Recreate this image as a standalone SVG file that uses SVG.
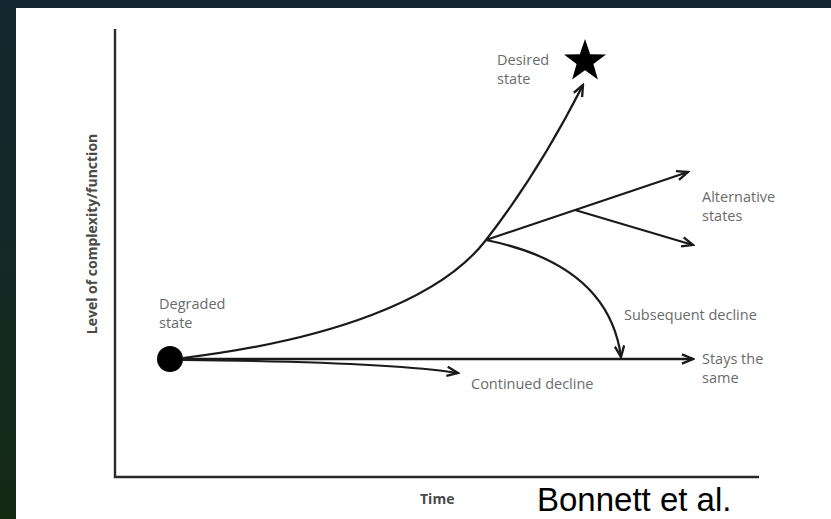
<svg xmlns="http://www.w3.org/2000/svg" width="831" height="519" viewBox="0 0 831 519">
  <defs>
    <linearGradient id="bg" x1="0" y1="0" x2="0" y2="1">
      <stop offset="0" stop-color="#13262f"/>
      <stop offset="0.5" stop-color="#132a26"/>
      <stop offset="1" stop-color="#142912"/>
    </linearGradient>
    <marker id="arr" markerUnits="userSpaceOnUse" markerWidth="14" markerHeight="12" viewBox="0 0 12 10" refX="10.5" refY="5" orient="auto">
      <path d="M1,1 L10.5,5 L1,9" fill="none" stroke="#1a1a1a" stroke-width="2" stroke-linejoin="miter"/>
    </marker>
    <style>
      .ax { stroke: #2a2a2a; stroke-width: 2.4; fill: none; }
      .ln { stroke: #1a1a1a; stroke-width: 2.2; fill: none; marker-end: url(#arr); }
      .lbl { font-family: "Open Sans", "Liberation Sans", sans-serif; font-size: 14.5px; fill: #6b6b6b; }
      .axl { font-family: "Open Sans", "Liberation Sans", sans-serif; font-size: 14px; font-weight: bold; fill: #4a4a4a; }
    </style>
  </defs>

  <rect x="0" y="0" width="831" height="519" fill="url(#bg)"/>
  <rect x="16" y="8" width="815" height="511" fill="#ffffff"/>

  <g id="axes">
    <polyline class="ax" points="115,29 115,477 759,477"/>
    <text class="axl" x="0" y="0" transform="translate(97,234) rotate(-90)" text-anchor="middle">Level of complexity/function</text>
    <text class="axl" x="420" y="504">Time</text>
  </g>

  <g id="connectors">
    <path id="c-desired" class="ln" d="M183,358 C330,340 440,300 486,240 C525,190 560,130 583,85"/>
    <path id="c-alt-up" class="ln" d="M486,240 L688,172"/>
    <path id="c-alt-down" class="ln" d="M575,210 L693,245"/>
    <path id="c-subsequent" class="ln" d="M486,240 C560,255 612,290 621,357"/>
    <path id="c-same" class="ln" style="stroke-width:2.6" d="M183,359 L693,359"/>
    <path id="c-continued" class="ln" d="M183,360 C300,361 400,364 458,373"/>
  </g>

  <g id="degraded">
    <circle cx="170" cy="359" r="13" fill="#000"/>
    <text class="lbl" x="159" y="309">Degraded</text>
    <text class="lbl" x="159" y="328">state</text>
  </g>

  <g id="desired">
    <polygon fill="#000" points="585,39 590.2,54.2 606,54.5 593.4,64 597.9,79.5 585,70.2 572.1,79.5 576.6,64 564,54.5 579.8,54.2"/>
    <text class="lbl" x="497" y="65">Desired</text>
    <text class="lbl" x="497" y="84">state</text>
  </g>

  <g id="alternative">
    <text class="lbl" x="702" y="202">Alternative</text>
    <text class="lbl" x="702" y="221">states</text>
  </g>

  <g id="subsequent">
    <text class="lbl" x="624" y="320">Subsequent decline</text>
  </g>

  <g id="same">
    <text class="lbl" x="702" y="364">Stays the</text>
    <text class="lbl" x="702" y="383">same</text>
  </g>

  <g id="continued">
    <text class="lbl" x="471" y="389">Continued decline</text>
  </g>

  <text x="537" y="511" font-family="Liberation Sans, Arial, sans-serif" font-size="33" fill="#000">Bonnett et al.</text>
</svg>
